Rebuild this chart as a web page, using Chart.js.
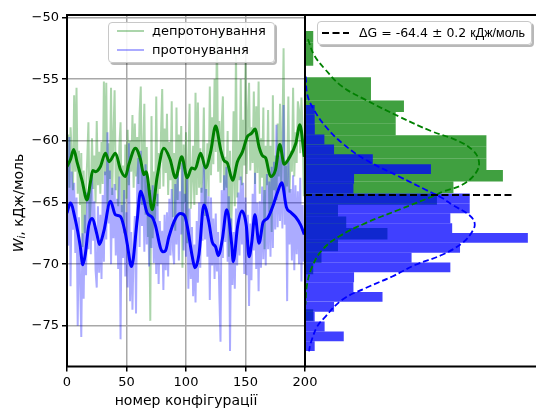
<!DOCTYPE html>
<html><head><meta charset="utf-8">
<script src="https://cdn.jsdelivr.net/npm/chart.js@4.4.1/dist/chart.umd.min.js"></script>
<style>
html,body{margin:0;padding:0;background:#fff;}
#wrap{position:relative;width:536px;height:412px;overflow:hidden;background:#fff;font-family:'DejaVu Sans',sans-serif;color:#000;}
canvas{position:absolute;left:0;top:0;}
.legend{position:absolute;background:rgba(255,255,255,0.88);border:1px solid #c8c8c8;border-radius:4px;box-shadow:2px 2px 0 rgba(0,0,0,0.28);box-sizing:border-box;z-index:5;}
.txt{position:absolute;height:16px;line-height:16px;white-space:nowrap;}
.swatch{position:absolute;height:2px;}
#ylab{position:absolute;left:-82px;top:193px;width:200px;height:20px;line-height:20px;text-align:center;font-size:14px;transform:rotate(-90deg);white-space:nowrap;z-index:5;}
#ylab sub{font-size:0.7em;vertical-align:-0.25em;line-height:0;}
</style>
</head><body>
<div id="wrap">
<canvas id="left" width="536" height="412"></canvas>
<canvas id="right" width="536" height="412"></canvas>
<div id="ylab"><i>W<sub>i</sub></i>, кДж/моль</div>
<div class="legend" id="legL" style="left:108px;top:22px;width:167px;height:41px;"></div>
<div class="legend" id="legR" style="left:317px;top:21px;width:215px;height:24px;"></div>
</div>
<script>
// ---------- data ----------
const seriesLabels = ['депротонування', 'протонування'];
const xTicks = [0, 50, 100, 150, 200];
const wTicks = [-75, -70, -65, -60, -55, -50];
const wMin = -78.3, wMax = -49.8;

const greenRaw = [
-62.5,-59.5,-63.8,-58.9,-61.2,-64.0,-56.3,-62.5,-55.7,-64.3,
-60.8,-65.2,-61.0,-68.6,-62.4,-67.5,-63.9,-61.5,-58.5,-66.8,
-64.6,-59.8,-63.9,-61.2,-65.0,-58.4,-63.6,-60.9,-64.3,-60.1,
-63.5,-55.2,-62.8,-55.3,-65.4,-60.2,-63.1,-55.7,-64.4,-59.6,
-55.9,-64.0,-61.2,-65.3,-60.5,-58.5,-65.8,-62.0,-67.5,-60.3,
-64.7,-59.1,-63.6,-60.0,-62.5,-57.9,-63.8,-58.6,-62.9,-59.7,
-63.5,-57.8,-55.6,-65.2,-61.0,-57.0,-66.0,-60.5,-67.8,-64.8,
-74.6,-58.0,-67.9,-62.5,-66.4,-56.4,-65.3,-61.0,-63.9,-59.4,
-55.8,-63.7,-59.0,-62.6,-57.8,-64.4,-60.1,-63.2,-56.8,-66.2,
-61.0,-67.3,-57.3,-64.8,-59.5,-62.3,-58.8,-70.3,-60.3,-65.0,
-59.3,-68.3,-62.0,-57.0,-65.5,-63.1,-60.4,-65.2,-56.1,-64.4,
-56.9,-63.8,-60.6,-64.2,-62.3,-57.3,-66.1,-63.0,-60.2,-64.5,
-55.6,-62.8,-58.1,-61.9,-55.0,-60.9,-51.1,-62.5,-58.4,-63.4,
-58.7,-56.4,-64.0,-61.3,-63.8,-59.2,-69.4,-60.8,-67.2,-63.5,
-57.6,-65.3,-52.4,-64.6,-60.0,-63.2,-55.0,-63.6,-58.3,-62.0,
-53.5,-62.7,-57.9,-55.3,-62.4,-58.9,-61.8,-56.0,-63.5,-57.2,
-62.6,-55.2,-64.3,-59.8,-63.0,-57.3,-68.8,-60.4,-63.6,-57.5,
-65.8,-60.4,-67.4,-56.3,-64.0,-61.2,-64.8,-58.6,-62.9,-57.0,
-63.4,-59.7,-52.5,-64.9,-61.6,-63.7,-56.4,-64.2,-60.8,-62.5,
-55.7,-62.9,-59.3,-61.8,-56.8,-57.5,-61.0,-56.5,-59.0,-64.5];

const blueRaw = [
-63.0,-68.5,-59.7,-71.8,-62.5,-67.2,-63.4,-69.1,-64.6,-75.0,
-66.2,-71.3,-75.9,-67.5,-72.8,-66.0,-70.9,-64.2,-68.8,-63.7,
-69.2,-62.8,-68.1,-64.9,-70.5,-71.9,-65.3,-70.7,-66.0,-71.2,
-64.4,-69.8,-62.5,-68.0,-59.3,-66.7,-62.4,-70.0,-63.8,-67.9,
-63.5,-69.3,-64.7,-70.4,-62.9,-76.1,-65.2,-69.5,-64.0,-71.0,
-65.8,-71.9,-60.2,-73.0,-67.4,-73.7,-68.5,-66.1,-74.0,-63.2,
-61.4,-68.6,-60.8,-66.9,-62.5,-69.0,-61.9,-68.4,-63.5,-70.2,
-64.0,-68.7,-63.6,-69.9,-65.1,-70.8,-64.3,-71.6,-66.5,-70.0,
-67.3,-72.1,-66.0,-70.5,-65.8,-71.0,-64.7,-69.3,-63.9,-68.8,
-70.0,-63.5,-68.4,-62.7,-69.7,-64.1,-67.6,-61.8,-68.9,-64.3,
-69.4,-63.0,-72.0,-65.5,-71.2,-67.0,-72.6,-68.4,-73.1,-66.5,
-71.5,-65.0,-70.3,-63.8,-68.1,-61.7,-68.0,-63.9,-69.4,-64.5,
-72.9,-64.6,-70.1,-66.3,-71.2,-65.9,-70.6,-67.4,-72.4,-76.3,
-64.0,-69.5,-62.8,-68.2,-62.1,-69.8,-64.5,-77.05,-66.3,-71.7,
-67.4,-72.0,-65.5,-70.1,-64.2,-69.3,-62.9,-68.4,-63.4,-70.8,
-64.6,-70.9,-66.0,-73.4,-66.7,-71.3,-64.3,-68.9,-62.6,-70.4,
-65.0,-72.2,-64.9,-70.3,-63.7,-69.6,-64.0,-70.1,-62.7,-68.8,
-63.3,-69.4,-62.1,-68.7,-61.7,-67.2,-58.7,-67.0,-61.2,-66.5,
-60.9,-67.1,-57.1,-66.8,-62.0,-73.0,-61.3,-68.4,-63.9,-69.7,
-62.8,-70.5,-63.6,-69.2,-64.1,-70.0,-63.0,-71.4,-65.2,-69.8];

const greenSmoothX = [0,3,5.6,8.4,12.6,16.8,19.6,21.6,24,28,32.3,35.4,40.7,45,49,52,57.5,61.7,64.6,66.5,71.6,75.8,81.4,86.6,91.2,96.4,101,104.8,107.6,112.3,116.5,120.7,124.9,129.1,131.9,134.7,139.2,143.2,147.4,151.6,155,158,161.4,164.2,167,171,175.2,178.8,182.5,186.7,192.3,195.7,199.4];
const greenSmoothW = [-62.1,-61.5,-60.7,-61.7,-63.2,-64.8,-63.4,-62.4,-62.5,-62.1,-61.0,-61.7,-61.0,-62.35,-62.9,-61.9,-60.6,-61.5,-62.75,-62.5,-65.6,-62.9,-60.6,-61.5,-63.0,-61.3,-63.0,-62.2,-62.3,-61.0,-62.2,-60.9,-58.8,-60.7,-61.6,-61.8,-63.2,-61.7,-60.9,-59.65,-59.4,-59.05,-60.5,-61.2,-61.4,-62.9,-62.35,-60.3,-61.9,-61.4,-60.2,-58.7,-61.3];
const blueSmoothX = [0,2.8,7,11.2,13.2,15.4,18.2,21,25.2,27.2,30.9,36.5,40.7,45,49,50.5,54.2,59,61.8,63.7,67.4,71.6,74.4,78.6,80.6,82.8,85.6,91.2,95.4,99,101,105.3,107.5,110.9,115,119.2,122,124.9,127.1,130.5,134.2,138.4,139.7,143.4,147,150.7,153,155.3,157.9,161.4,164.8,168.4,172.6,176.8,180.5,184.4,188,192.3,196.5,199.4];
const blueSmoothW = [-65.86,-65.05,-66.4,-68.6,-70.05,-69.2,-66.9,-66.3,-67.6,-68.4,-67.35,-64.9,-66.0,-66.15,-67.5,-68.3,-70.2,-66.4,-64.1,-64.5,-65.86,-66.2,-66.9,-68.7,-69.0,-68.9,-67.8,-66.3,-65.9,-66.1,-66.9,-69.4,-70.3,-69.2,-65.2,-66.6,-68.2,-68.6,-69.3,-68.0,-65.6,-68.4,-69.8,-66.9,-65.7,-66.9,-69.4,-68.2,-66.0,-68.3,-66.6,-66.3,-65.4,-64.2,-63.4,-65.4,-65.8,-66.2,-66.85,-67.6];

// histogram bins (edges, kJ/mol) and counts
const greenEdges = [-51.09,-52.03,-52.97,-53.91,-54.85,-55.79,-56.73,-57.67,-58.61,-59.55,-60.49,-61.43,-62.37,-63.31,-64.25,-65.19,-66.13,-67.07,-68.01,-68.95,-69.89,-70.83,-71.77,-72.71,-73.65,-74.59];
const greenCounts = [1,1,1,0,8,8,12,11,11,22,22,22,24,18,16,4,5,10,4,2,1,0,0,0,1];
const blueEdges = [-57.10,-57.90,-58.70,-59.49,-60.29,-61.09,-61.89,-62.69,-63.48,-64.28,-65.08,-65.88,-66.68,-67.47,-68.27,-69.07,-69.87,-70.67,-71.46,-72.26,-73.06,-73.86,-74.66,-75.45,-76.25,-77.05];
const blueCounts = [1,1,1,2,3,7,13,5,5,17,17,15,15,23,16,11,15,5,5,8,3,1,2,4,1];

// fitted normal curves (density, W)
const greenFitW = [-51.76,-53.03,-54.25,-55.60,-56.68,-58.03,-59.25,-59.92,-60.73,-61.68,-62.62,-63.57,-64.11,-64.51,-65.59,-66.67,-67.76,-68.83,-70.19,-71.67,-73.29];
const greenFitD = [0.0019,0.0058,0.0133,0.0240,0.0391,0.0606,0.0821,0.0972,0.1079,0.1122,0.1101,0.1014,0.0893,0.0822,0.0606,0.0391,0.0219,0.0112,0.0047,0.0013,0.0003];
const blueFitW = [-54.79,-56.27,-57.49,-58.84,-60.19,-61.54,-62.89,-63.97,-64.64,-65.19,-66.00,-66.67,-67.35,-68.29,-69.24,-70.05,-71.00,-71.94,-72.89,-74.37,-75.05,-76.39,-77.07];
const blueFitD = [0.0005,0.0015,0.0058,0.0133,0.0240,0.0391,0.0606,0.0778,0.0885,0.0950,0.1057,0.1094,0.1079,0.1014,0.0885,0.0714,0.0563,0.0391,0.0240,0.0123,0.0079,0.0037,0.0026];

const deltaG = -64.4;
const deltaGText = 'ΔG = -64.4 ± 0.2 ';
const deltaGUnit = 'кДж/моль';
const deltaGSpan = [0, 0.135];
const densityMax = 0.149;

// ---------- build ----------
const C_GREEN = '#008000', C_BLUE = '#0000ff';
const C_GREEN_L = 'rgba(0,128,0,0.33)', C_BLUE_L = 'rgba(0,0,255,0.33)';
Chart.defaults.font.family = "'DejaVu Sans', sans-serif";
Chart.defaults.font.size = 13;
Chart.defaults.color = '#000';

const frame = {
  id: 'frame',
  afterDraw(chart, args, opts) {
    const {ctx, chartArea: a} = chart;
    const s = opts.sides || '';
    ctx.save();
    ctx.strokeStyle = '#000'; ctx.lineWidth = 2; ctx.lineCap = 'square';
    ctx.beginPath();
    if (s.includes('t')) { ctx.moveTo(a.left, a.top); ctx.lineTo(a.right, a.top); }
    if (s.includes('b')) { ctx.moveTo(a.left, a.bottom); ctx.lineTo(a.right, a.bottom); }
    if (s.includes('l')) { ctx.moveTo(a.left, a.top); ctx.lineTo(a.left, a.bottom); }
    if (s.includes('r')) { ctx.moveTo(a.right, a.top); ctx.lineTo(a.right, a.bottom); }
    ctx.stroke();
    ctx.restore();
  }
};

const pts = (xs, ys) => ys.map((y, i) => ({x: xs[i], y}));
const idx = greenRaw.map((_, i) => i);
const minus = v => String(v).replace('-', '\u2212');
const gridOpts = {color: '#a8a8a8', lineWidth: 1.5, tickLength: 5, tickColor: '#000', tickWidth: 1.5};

const leftChart = new Chart(document.getElementById('left'), {
  type: 'line',
  data: {datasets: [
    {label: seriesLabels[0], data: pts(idx, greenRaw), borderColor: C_GREEN_L, borderWidth: 2, pointRadius: 0, tension: 0, order: 3},
    {label: seriesLabels[1], data: pts(idx, blueRaw), borderColor: C_BLUE_L, borderWidth: 2, pointRadius: 0, tension: 0, order: 2},
    {label: 'smooth-g', data: pts(greenSmoothX, greenSmoothW), borderColor: C_GREEN, borderWidth: 3, pointRadius: 0, tension: 0.4, cubicInterpolationMode: 'monotone', order: 1},
    {label: 'smooth-b', data: pts(blueSmoothX, blueSmoothW), borderColor: C_BLUE, borderWidth: 3, pointRadius: 0, tension: 0.4, cubicInterpolationMode: 'monotone', order: 0}
  ]},
  options: {
    responsive: false, animation: false, devicePixelRatio: 1, events: [],
    layout: {padding: {left: 0, right: 231, top: 15, bottom: 0}},
    plugins: {legend: {display: false}, tooltip: {enabled: false}, frame: {sides: 'tblr'}},
    scales: {
      x: {type: 'linear', min: 0, max: 200,
        afterBuildTicks: s => { s.ticks = xTicks.map(v => ({value: v})); },
        afterFit: s => { s.height = 45.5; },
        grid: gridOpts, border: {display: false},
        ticks: {padding: 3, maxRotation: 0, autoSkip: false, font: {size: 13}},
        title: {display: true, text: 'номер конфігурації', font: {size: 14}, padding: {top: 0, bottom: 2}}
      },
      y: {type: 'linear', min: wMin, max: wMax,
        afterBuildTicks: s => { s.ticks = wTicks.map(v => ({value: v})); },
        afterFit: s => { s.width = 67; },
        grid: gridOpts, border: {display: false},
        ticks: {padding: 3, font: {size: 13}, callback: v => minus(v)}
      }
    }
  },
  plugins: [frame]
});

const binPts = (edges, counts) => counts.map((c, k) => ({
  y: (edges[k] + edges[k + 1]) / 2,
  x: c / (greenRaw.length * Math.abs(edges[k + 1] - edges[k]))
}));
const hidY = {type: 'linear', axis: 'y', min: wMin, max: wMax, display: false, offset: false, ticks: {stepSize: 5}, grid: {offset: false}};
const barStyle = {borderWidth: 0, barPercentage: 1, categoryPercentage: 1, inflateAmount: 0, grouped: false};

const rightChart = new Chart(document.getElementById('right'), {
  type: 'bar',
  data: {datasets: [
    Object.assign({type: 'bar', label: 'hist-g', data: binPts(greenEdges, greenCounts), indexAxis: 'y', xAxisID: 'x', yAxisID: 'yG',
      backgroundColor: 'rgba(0,128,0,0.75)', order: 4}, barStyle),
    Object.assign({type: 'bar', label: 'hist-b', data: binPts(blueEdges, blueCounts), indexAxis: 'y', xAxisID: 'x', yAxisID: 'yB',
      backgroundColor: 'rgba(0,0,255,0.75)', order: 3}, barStyle),
    {type: 'line', label: 'fit-g', data: pts(greenFitD, greenFitW), indexAxis: 'y', xAxisID: 'x', yAxisID: 'yG',
      borderColor: C_GREEN, borderWidth: 1.8, borderDash: [6, 3], pointRadius: 0, tension: 0.4, fill: false, order: 2},
    {type: 'line', label: 'fit-b', data: pts(blueFitD, blueFitW), indexAxis: 'y', xAxisID: 'x', yAxisID: 'yB',
      borderColor: C_BLUE, borderWidth: 1.8, borderDash: [6, 3], pointRadius: 0, tension: 0.4, fill: false, order: 1},
    {type: 'line', label: deltaGText + deltaGUnit, data: deltaGSpan.map(d => ({x: d, y: deltaG})), indexAxis: 'y', xAxisID: 'x', yAxisID: 'yG',
      borderColor: '#000', borderWidth: 2, borderDash: [7, 3.5], pointRadius: 0, tension: 0, fill: false, order: 0}
  ]},
  options: {
    indexAxis: 'y', responsive: false, animation: false, devicePixelRatio: 1, events: [],
    layout: {padding: {left: 305, right: 0, top: 15, bottom: 45.5}},
    plugins: {legend: {display: false}, tooltip: {enabled: false}, frame: {sides: 'tbl'}},
    scales: {
      x: {type: 'linear', min: 0, max: densityMax, display: false, offset: false},
      yG: hidY,
      yB: Object.assign({}, hidY)
    }
  },
  plugins: [frame]
});

// ---------- legends (HTML, from datasets) ----------
const legL = document.getElementById('legL');
[0, 1].forEach((i, r) => {
  const ds = leftChart.data.datasets[i];
  const cy = 8 + r * 19;
  const sw = document.createElement('div');
  sw.className = 'swatch';
  sw.style.cssText = `left:8px;top:${cy - 1}px;width:27px;background:${ds.borderColor};`;
  const t = document.createElement('div');
  t.className = 'txt';
  t.style.cssText = `left:43px;top:${cy - 8}px;font-size:13px;`;
  t.textContent = ds.label;
  legL.appendChild(sw); legL.appendChild(t);
});
const legR = document.getElementById('legR');
legR.innerHTML = '<svg style="position:absolute;left:4px;top:9px" width="28" height="4"><line x1="0" y1="2" x2="27" y2="2" stroke="#000" stroke-width="2" stroke-dasharray="7 3.5"/></svg>' +
  '<div class="txt" style="left:41px;top:3px;font-size:12.5px;"></div>';
const rt = legR.querySelector('.txt');
rt.appendChild(document.createTextNode(deltaGText));
const unit = document.createElement('span');
unit.style.fontFamily = "'Liberation Sans', sans-serif";
unit.textContent = deltaGUnit;
rt.appendChild(unit);
</script>
</body></html>
